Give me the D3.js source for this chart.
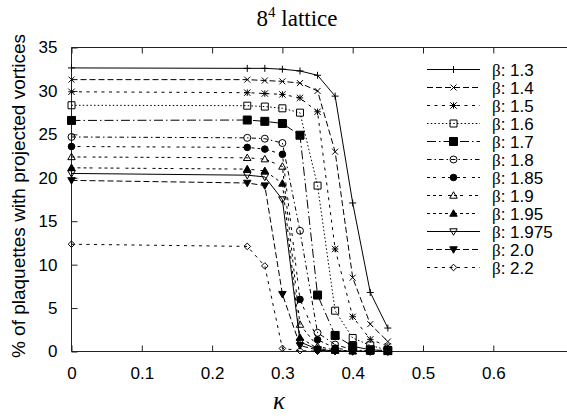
<!DOCTYPE html>
<html lang="en">
<head>
<meta charset="utf-8">
<script src="https://d3js.org/d3.v7.min.js"></script>
<style>
  body { margin: 0; background: #fff; }
  svg text { fill: #000; }
</style>
</head>
<body>
<script>
// kappa values of the scan
var kappa = [0, 0.25, 0.275, 0.3, 0.325, 0.35, 0.375, 0.4, 0.425, 0.45];

var betas = ["1.3", "1.4", "1.5", "1.6", "1.7", "1.8", "1.85", "1.9", "1.95", "1.975", "2.0", "2.2"];

// % of plaquettes with projected vortices, one array per beta
var b130  = [32.65, 32.6, 32.6, 32.5, 32.3, 31.8, 29.4, 17.1, 6.8, 2.7];
var b140  = [31.3, 31.3, 31.2, 31.1, 30.9, 30.0, 23.0, 8.5, 3.15, 1.15];
var b150  = [29.9, 29.8, 29.7, 29.6, 29.2, 27.6, 11.8, 4.0, 1.4, 0.6];
var b160  = [28.35, 28.3, 28.2, 28.0, 27.5, 19.1, 4.7, 1.55, 0.7, 0.15];
var b170  = [26.6, 26.65, 26.5, 26.25, 24.9, 6.5, 1.85, 0.6, 0.2, 0.1];
var b180  = [24.7, 24.6, 24.5, 24.0, 13.9, 2.15, 0.8, 0.2, 0.05, 0.02];
var b185  = [23.6, 23.5, 23.3, 22.7, 6.0, 1.35, 0.4, 0.1, 0.03, 0.01];
var b190  = [22.4, 22.3, 22.15, 21.3, 3.1, 0.6, 0.15, 0.05, 0.02, 0.01];
var b195  = [21.15, 21.0, 20.8, 19.35, 1.6, 0.35, 0.1, 0.03, 0.01, 0];
var b1975 = [20.5, 20.3, 20.1, 17.5, 1.1, 0.25, 0.05, 0.02, 0.01, 0];
var b200  = [19.7, 19.4, 19.1, 6.6, 0.7, 0.15, 0.04, 0.01, 0, 0];
var b220  = [12.35, 12.1, 9.85, 0.35, 0.1, 0.03, 0.01, 0, 0, 0];

var series = [b130, b140, b150, b160, b170, b180, b185, b190, b195, b1975, b200, b220];

var xTicks = [0, 0.1, 0.2, 0.3, 0.4, 0.5, 0.6];
var yTicks = [0, 5, 10, 15, 20, 25, 30, 35];

var W = 567, H = 418;
var plotLeft = 71.5, plotBottom = 351.5, plotTop = 47.5;

// gnuplot style dash patterns (lt 1..9, then cycle)
var u = 1.5;
var dashes = [null, [4, 2], [2, 3], [1, 1.5], [6, 2, 1, 2], [3, 2, 1, 2], [2, 2, 2, 4],
              [2, 2, 2, 2, 2, 4], [2, 2, 2, 2, 2, 2, 2, 4], null, [4, 2], [2, 3]];

var x = d3.scaleLinear().domain([0, 0.7]).range([plotLeft, plotLeft + 0.7 * 703]);
var y = d3.scaleLinear().domain([0, 35]).range([plotBottom, plotTop]);

var svg = d3.select("body").append("svg")
    .attr("width", W)
    .attr("height", H)
    .attr("font-family", "'Liberation Sans', Arial, sans-serif");

// frame (top and bottom run past the window edge, as in the original)
svg.append("path")
    .attr("d", "M" + (W + 5) + "," + plotTop + "H" + plotLeft + "V" + plotBottom + "H" + (W + 5))
    .attr("fill", "none")
    .attr("stroke", "#222")
    .attr("stroke-width", 1);

var xAxis = svg.append("g")
    .attr("transform", "translate(0," + plotBottom + ")")
    .call(d3.axisBottom(x).tickValues(xTicks).tickSize(-6).tickSizeOuter(0).tickPadding(15)
        .tickFormat(function(d) { return d === 0 ? "0" : d3.format(".1f")(d); }));
var xTop = svg.append("g")
    .attr("transform", "translate(0," + plotTop + ")")
    .call(d3.axisTop(x).tickValues(xTicks).tickSize(-6).tickSizeOuter(0).tickFormat(""));
var yAxis = svg.append("g")
    .attr("transform", "translate(" + plotLeft + ",0)")
    .call(d3.axisLeft(y).tickValues(yTicks).tickSize(-6).tickSizeOuter(0).tickPadding(14));

[xAxis, xTop, yAxis].forEach(function(g) {
    g.select(".domain").remove();
    g.selectAll("line").attr("stroke", "#222");
    g.selectAll("text").attr("font-size", 17).attr("font-family", "'Liberation Sans', Arial, sans-serif").attr("fill", "#000");
});

// markers in gnuplot point type order
function marker(i, s) {
    switch (i) {
        case 0: return "M" + (-s) + ",0H" + s + "M0," + (-s) + "V" + s;
        case 1: return "M" + (-s) + "," + (-s) + "L" + s + "," + s + "M" + (-s) + "," + s + "L" + s + "," + (-s);
        case 2: return "M" + (-s) + ",0H" + s + "M0," + (-s) + "V" + s +
                       "M" + (-s) + "," + (-s) + "L" + s + "," + s + "M" + (-s) + "," + s + "L" + s + "," + (-s);
        case 3:
        case 4: return "M" + (-s) + "," + (-s) + "H" + s + "V" + s + "H" + (-s) + "Z";
        case 5:
        case 6: return "M" + (-s) + ",0A" + s + "," + s + " 0 1,0 " + s + ",0A" + s + "," + s + " 0 1,0 " + (-s) + ",0Z";
        case 7:
        case 8: return "M0," + (-s * 1.1) + "L" + (s * 1.1) + "," + (s * 0.8) + "H" + (-s * 1.1) + "Z";
        case 9:
        case 10: return "M0," + (s * 1.1) + "L" + (s * 1.1) + "," + (-s * 0.8) + "H" + (-s * 1.1) + "Z";
        case 11: return "M0," + (-s) + "L" + s + ",0L0," + s + "L" + (-s) + ",0Z";
    }
}
var filled = [false, false, false, false, true, false, true, false, true, false, true, false];
var msize = [3.5, 3, 3.2, 3.5, 4, 3.5, 3.3, 3.4, 3.4, 3.4, 3.4, 3.3];

var line = d3.line()
    .x(function(d) { return x(d[0]); })
    .y(function(d) { return y(d[1]); });

series.forEach(function(vals, i) {
    var pts = kappa.map(function(k, j) { return [k, vals[j]]; });
    var g = svg.append("g").attr("class", "series");
    g.append("path")
        .attr("d", line(pts))
        .attr("fill", "none")
        .attr("stroke", "#000")
        .attr("stroke-width", 1)
        .attr("stroke-dasharray", dashes[i] ? dashes[i].map(function(v) { return v * u; }).join(",") : null);
    g.selectAll("path.pt")
        .data(pts)
        .enter().append("path")
        .attr("class", "pt")
        .attr("transform", function(d) { return "translate(" + x(d[0]) + "," + y(d[1]) + ")"; })
        .attr("d", marker(i, msize[i]))
        .attr("fill", filled[i] ? "#000" : "none")
        .attr("stroke", "#000")
        .attr("stroke-width", 1);
});

// legend
var legend = svg.append("g");
betas.forEach(function(b, i) {
    var ly = 69.5 + i * 18;
    legend.append("path")
        .attr("d", "M427," + ly + "H480")
        .attr("stroke", "#000")
        .attr("stroke-width", 1)
        .attr("stroke-dasharray", dashes[i] ? dashes[i].map(function(v) { return v * u; }).join(",") : null);
    legend.append("path")
        .attr("transform", "translate(453.5," + ly + ")")
        .attr("d", marker(i, msize[i]))
        .attr("fill", filled[i] ? "#000" : "none")
        .attr("stroke", "#000");
    var t = legend.append("text")
        .attr("x", 492)
        .attr("y", ly + 6)
        .attr("font-size", 17);
    t.append("tspan").attr("font-family", "'Liberation Serif', serif").text("\u03b2");
    t.append("tspan").text(": " + b);
});

// title
var title = svg.append("text")
    .attr("x", 297)
    .attr("y", 26)
    .attr("text-anchor", "middle")
    .attr("font-family", "'Liberation Serif', 'Times New Roman', serif")
    .attr("font-size", 23);
title.append("tspan").text("8");
title.append("tspan").attr("dy", -9).attr("font-size", 15).text("4");
title.append("tspan").attr("dy", 9).text(" lattice");

// axis labels
svg.append("text")
    .attr("x", 279)
    .attr("y", 409)
    .attr("text-anchor", "middle")
    .attr("font-family", "'Liberation Serif', serif")
    .attr("font-style", "italic")
    .attr("font-size", 25)
    .text("\u03ba");

svg.append("text")
    .attr("transform", "translate(25,196) rotate(-90)")
    .attr("text-anchor", "middle")
    .attr("font-size", 19)
    .text("% of plaquettes with projected vortices");
</script>
</body>
</html>
